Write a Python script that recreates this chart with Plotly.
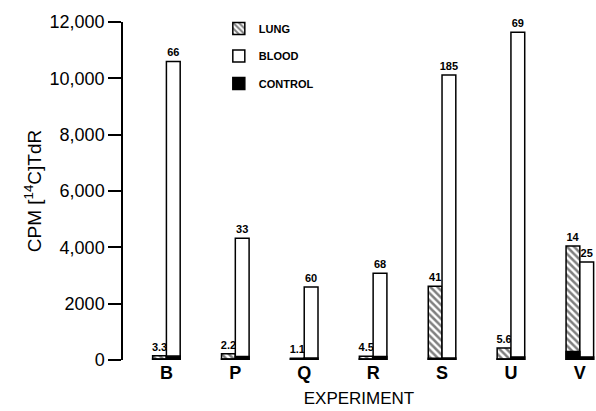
import plotly.graph_objects as go

experiments = ["B", "P", "Q", "R", "S", "U", "V"]
lung_cpm = [150, 220, 60, 130, 2620, 430, 4050]
blood_cpm = [10600, 4320, 2590, 3080, 10120, 11640, 3480]
control_lung_cpm = [40, 40, 40, 40, 60, 40, 300]
control_blood_cpm = [140, 120, 70, 120, 70, 110, 110]
lung_labels = ["3.3", "2.2", "1.1", "4.5", "41", "5.6", "14"]
blood_labels = ["66", "33", "60", "68", "185", "69", "25"]

ytick_vals = [0, 2000, 4000, 6000, 8000, 10000, 12000]
ytick_text = ["0", "2000", "4,000", "6,000", "8,000", "10,000", "12,000"]

FONT = "Liberation Sans"
W = 0.2

fig = go.Figure()
fig.add_trace(go.Bar(
    x=experiments, y=lung_cpm, name="LUNG", legendgroup="a",
    offset=-W, width=W,
    marker=dict(color="white", line=dict(color="black", width=1.5),
                pattern=dict(shape="\\", fgcolor="black", bgcolor="white", size=5, solidity=0.5)),
    text=lung_labels, textposition="outside", constraintext="none", cliponaxis=False,
    textfont=dict(family=FONT, size=11, color="black", weight="bold"),
))
fig.add_trace(go.Bar(
    x=experiments, y=blood_cpm, name="BLOOD", legendgroup="b",
    offset=0, width=W,
    marker=dict(color="white", line=dict(color="black", width=1.5)),
    text=blood_labels, textposition="outside", constraintext="none", cliponaxis=False,
    textfont=dict(family=FONT, size=11, color="black", weight="bold"),
))
fig.add_trace(go.Bar(
    x=experiments, y=control_lung_cpm, name="CONTROL", legendgroup="c",
    offset=-W, width=W, showlegend=True,
    marker=dict(color="black", line=dict(color="black", width=1.5)),
))
fig.add_trace(go.Bar(
    x=experiments, y=control_blood_cpm, name="CONTROL", legendgroup="c",
    offset=0, width=W, showlegend=False,
    marker=dict(color="black", line=dict(color="black", width=1.5)),
))

fig.update_layout(
    width=596, height=411,
    margin=dict(l=123, r=1, t=22, b=51, autoexpand=False),
    paper_bgcolor="white", plot_bgcolor="white",
    barmode="overlay",
    font=dict(family=FONT, color="black"),
    showlegend=True,
    legend=dict(x=0.203, y=1.024, xanchor="left", yanchor="top",
                font=dict(family=FONT, size=11, color="black", weight="bold"),
                tracegroupgap=8.5, bgcolor="rgba(0,0,0,0)"),
    xaxis=dict(range=[-0.63, 6.22], automargin=False, showline=False, showgrid=False, zeroline=False,
               ticks="", tickfont=dict(family=FONT, size=18, weight="bold"),
               title=dict(text="EXPERIMENT", font=dict(family=FONT, size=17), standoff=10)),
    yaxis=dict(range=[0, 12000], automargin=False, showline=True, linecolor="black", linewidth=1.5,
               showgrid=False, zeroline=False, ticks="outside", ticklen=13, tickwidth=1.5,
               tickcolor="black", tickvals=ytick_vals, ticktext=ytick_text,
               tickfont=dict(family=FONT, size=18),
               title=dict(text="CPM [<sup>14</sup>C]TdR", font=dict(family=FONT, size=19), standoff=3)),
)

fig.write_html(
    "out.html",
    config={"displayModeBar": False},
    post_script="document.body.style.margin='0';document.body.style.overflow='hidden';",
)
